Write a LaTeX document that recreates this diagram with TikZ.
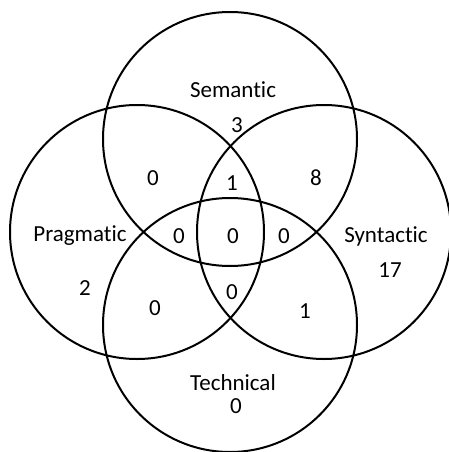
\documentclass[tikz,border=0pt]{standalone}
\usepackage{fontspec}
\setmainfont{Carlito}[Ligatures=NoCommon]
\usepackage{tikz}
\usetikzlibrary{positioning}

\begin{document}
\begin{tikzpicture}[
	x=1pt, y=-1pt,
	% Style for the four sets (circles)
	set/.style={
		circle,
		draw=black,
		line width=2pt,
		minimum size=254pt,
		inner sep=0pt
	},
	% Style for the set names
	setname/.style={
		font=\fontsize{23}{27}\selectfont,
		inner sep=0pt
	},
	% Style for the counts in each region
	count/.style={
		font=\fontsize{23}{27}\selectfont,
		inner sep=0pt
	}
	]
	
	\useasboundingbox (0,0) rectangle (448,452);
	
	% --- SETS ---
	\node[set] (Sem) at (230,139) {};
	\node[set] (Prag) at (137,232) {};
	\node[set] (Syn) at (324,232) {};
	\node[set] (Tech) at (230,325) {};
	
	% --- SET NAMES ---
	\node[setname] (SemName) at (233,90) {Semantic};
	\node[setname] (PragName) at (80,236) {Pragmatic};
	\node[setname] (SynName) at (386,236) {Syntactic};
	\node[setname] (TechName) at (233,383) {Technical};
	
	% --- COUNTS ---
	\node[count] (nSem) at (237,125) {3};
	\node[count] (nPrag) at (85,288) {2};
	\node[count] (nSyn) at (390,270) {17};
	\node[count] (nTech) at (236,406) {0};
	
	\node[count] (nSemPrag) at (153,178) {0};
	\node[count] (nSemSyn) at (316,178) {8};
	\node[count] (nPragTech) at (155,308) {0};
	\node[count] (nSynTech) at (305,311) {1};
	
	\node[count] (nSemPragSyn) at (232,183) {1};
	\node[count] (nSemPragTech) at (179,236) {0};
	\node[count] (nSemSynTech) at (284,236) {0};
	\node[count] (nPragSynTech) at (232,292) {0};
	
	\node[count] (nAll) at (233,236) {0};
	
\end{tikzpicture}
\end{document}
